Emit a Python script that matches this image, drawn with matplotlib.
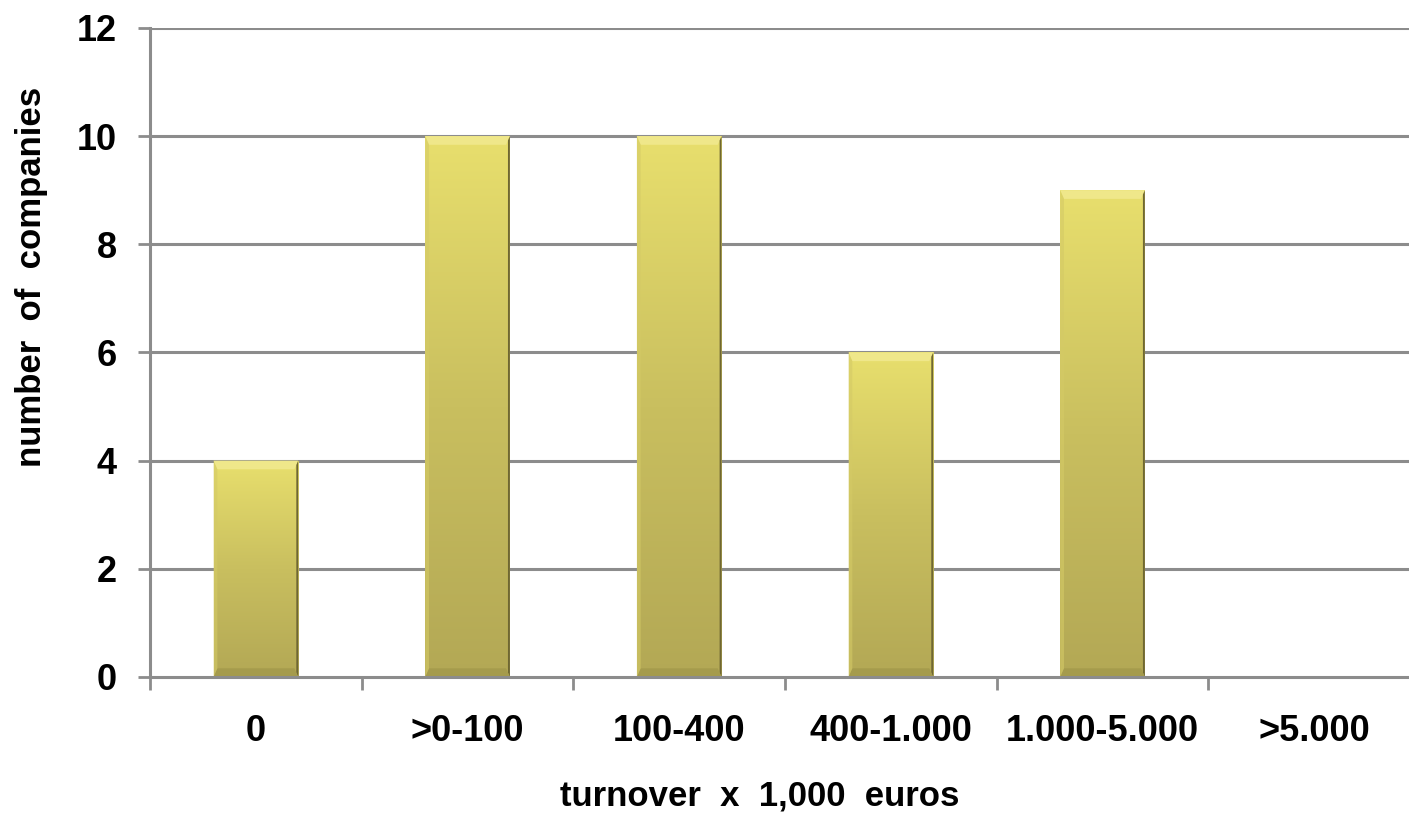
import matplotlib.pyplot as plt
import numpy as np
from matplotlib.colors import LinearSegmentedColormap
from matplotlib.patches import Polygon

categories = ["0", ">0-100", "100-400", "400-1.000", "1.000-5.000", ">5.000"]
companies = [4, 10, 10, 6, 9, 0]
y_ticks = [0, 2, 4, 6, 8, 10, 12]

GRID = "#8c8c8c"
plt.rcParams["font.family"] = ["Liberation Sans", "DejaVu Sans"]
plt.rcParams["font.weight"] = "bold"

fig = plt.figure(figsize=(14.09, 8.13), dpi=100)
# plot area runs a little past the right edge of the canvas
ax = fig.add_axes([0.1065, 0.1673, 0.9013, 0.7983])

x = np.arange(len(categories))
width = 0.40
ax.set_xlim(-0.5, len(categories) - 0.5)
ax.set_ylim(0, 12)

for yv in y_ticks[1:]:
    ax.axhline(yv, color=GRID, linewidth=2.2, zorder=1)

bars = ax.bar(x, companies, width=width, facecolor="none", edgecolor="none", zorder=2)

shade = LinearSegmentedColormap.from_list("bar", ["#b3a855", "#c9bf5f", "#e8df6d"])
grad = np.linspace(0, 1, 256).reshape(-1, 1)
bx = width * 0.045
by = 0.16
for rect in bars:
    h = rect.get_height()
    if h <= 0:
        continue
    x0 = rect.get_x()
    x1 = x0 + rect.get_width()
    im = ax.imshow(grad, extent=(x0, x1, 0, h), origin="lower", cmap=shade,
                   aspect="auto", zorder=3, interpolation="bilinear")
    im.set_clip_path(rect)
    # bevelled edges
    ax.add_patch(Polygon([(x0, h), (x1, h), (x1 - bx, h - by), (x0 + bx, h - by)],
                         closed=True, facecolor="#efe78a", edgecolor="none", zorder=4))
    ax.add_patch(Polygon([(x1, h), (x1, 0), (x1 - bx * 0.5, by * 0.5), (x1 - bx * 0.5, h - by * 0.5)],
                         closed=True, facecolor="#6f6733", edgecolor="none", zorder=4))
    ax.add_patch(Polygon([(x0, 0), (x1, 0), (x1 - bx, by), (x0 + bx, by)],
                         closed=True, facecolor="#a59b4c", edgecolor="none", zorder=4))
    ax.add_patch(Polygon([(x0, 0), (x0, h), (x0 + bx, h - by), (x0 + bx, by)],
                         closed=True, facecolor="#d4ca66", edgecolor="none", alpha=0.6, zorder=4))

ax.set_xticks(np.arange(len(categories) + 1) - 0.5)
ax.set_xticklabels([])
ax.set_xticks(x, minor=True)
ax.set_xticklabels(categories, minor=True, fontsize=26, fontweight="bold")
ax.tick_params(axis="x", which="major", length=9, width=2, color=GRID, direction="out")
ax.tick_params(axis="x", which="minor", length=0, pad=27)

ax.set_yticks(y_ticks)
ax.set_yticklabels([str(v) for v in y_ticks], fontsize=26, fontweight="bold")
ax.tick_params(axis="y", length=9, width=2, color=GRID, direction="out", pad=15)

for side in ("top", "right"):
    ax.spines[side].set_visible(False)
for side in ("left", "bottom"):
    ax.spines[side].set_color(GRID)
    ax.spines[side].set_linewidth(2.2)
    ax.spines[side].set_zorder(5)

ax.set_xlabel("turnover  x  1,000  euros", fontsize=25, fontweight="bold")
ax.set_ylabel("number  of  companies", fontsize=25, fontweight="bold")
ax.xaxis.set_label_coords(0.48, -0.158)
ax.yaxis.set_label_coords(-0.080, 0.616)

fig.savefig("out.png", dpi=100)
